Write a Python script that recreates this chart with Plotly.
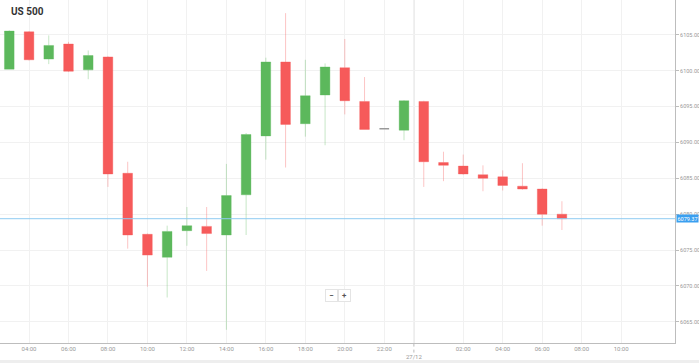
import plotly.graph_objects as go

# ---- data (hourly candles, 26/12 03:00 -> 27/12 07:00) ----
hours = ["03:00", "04:00", "05:00", "06:00", "07:00", "08:00", "09:00", "10:00",
         "11:00", "12:00", "13:00", "14:00", "15:00", "16:00", "17:00", "18:00",
         "19:00", "20:00", "21:00", "22:00", "23:00", "00:00", "01:00", "02:00",
         "03:00", "04:00", "05:00", "06:00", "07:00"]
opens = [6100.2, 6105.4, 6101.6, 6103.7, 6100.1, 6101.9, 6085.7, 6077.2,
         6074.0, 6077.7, 6078.3, 6077.1, 6082.7, 6090.9, 6101.2, 6092.6,
         6096.6, 6100.4, 6095.7, 6091.9, 6091.7, 6095.7, 6087.2, 6086.7,
         6085.5, 6085.2, 6083.9, 6083.5, 6080.0]
highs = [6105.6, 6105.5, 6104.9, 6104.0, 6102.8, 6102.0, 6087.3, 6077.3,
         6078.4, 6081.0, 6081.0, 6087.0, 6091.3, 6101.8, 6108.0, 6101.5,
         6101.0, 6104.4, 6099.1, 6091.9, 6095.9, 6095.8, 6088.7, 6088.3,
         6086.8, 6086.1, 6087.1, 6083.6, 6081.8]
lows = [6100.2, 6101.4, 6100.9, 6099.8, 6098.8, 6083.8, 6075.2, 6069.9,
        6068.4, 6075.6, 6072.1, 6063.9, 6077.1, 6087.6, 6086.5, 6090.8,
        6089.6, 6093.9, 6091.8, 6091.9, 6090.3, 6083.8, 6084.6, 6085.5,
        6083.2, 6083.3, 6083.4, 6078.4, 6077.8]
closes = [6105.5, 6101.5, 6103.5, 6099.9, 6102.1, 6085.6, 6077.1, 6074.3,
          6077.6, 6078.4, 6077.3, 6082.6, 6091.1, 6101.2, 6092.5, 6096.5,
          6100.5, 6095.8, 6091.8, 6091.9, 6095.8, 6087.3, 6086.8, 6085.6,
          6085.0, 6084.0, 6083.5, 6080.0, 6079.37]
current_price = 6079.37
day_label = "27/12"
y_ticks = [6065, 6070, 6075, 6080, 6085, 6090, 6095, 6100, 6105]

# ---- derived positions ----
xs = list(range(len(hours)))
day_start = hours.index("00:00")
day_x = day_start - 0.5

# tick positions: even hours (extending past the last candle)
tickvals, ticktext = [], []
ext_hours = hours + ["08:00", "09:00", "10:00"]
for i, h in enumerate(ext_hours):
    if int(h[:2]) % 2 == 0 and h != "00:00":
        tickvals.append(i)
        ticktext.append(h)
tickvals.append(day_x)
ticktext.append(" <br>" + day_label)

GREEN = "#5cb85c"
RED = "#f65a5a"
GREEN_L = "rgba(92,184,92,0.35)"
RED_L = "rgba(246,90,90,0.35)"

main_idx = [i for i in xs if opens[i] != closes[i]]
doji_idx = [i for i in xs if opens[i] == closes[i]]

fig = go.Figure()
fig.add_trace(go.Candlestick(
    x=[xs[i] for i in main_idx],
    open=[opens[i] for i in main_idx], high=[highs[i] for i in main_idx],
    low=[lows[i] for i in main_idx], close=[closes[i] for i in main_idx],
    increasing=dict(fillcolor=GREEN, line=dict(color=GREEN_L, width=1)),
    decreasing=dict(fillcolor=RED, line=dict(color=RED_L, width=1)),
    whiskerwidth=0, showlegend=False, hoverinfo="skip"))
fig.add_trace(go.Candlestick(
    x=[xs[i] for i in doji_idx],
    open=[opens[i] for i in doji_idx], high=[highs[i] for i in doji_idx],
    low=[lows[i] for i in doji_idx], close=[closes[i] for i in doji_idx],
    increasing=dict(fillcolor="#999999", line=dict(color="#999999", width=1.5)),
    decreasing=dict(fillcolor="#999999", line=dict(color="#999999", width=1.5)),
    whiskerwidth=0, showlegend=False, hoverinfo="skip"))

# day boundary line
fig.add_shape(type="line", xref="x", yref="paper", x0=day_x, x1=day_x, y0=0, y1=1,
              line=dict(color="#e2e2e2", width=1.5), layer="below")
fig.add_shape(type="line", xref="x", yref="paper", x0=day_x, x1=day_x, y0=-0.028, y1=0,
              line=dict(color="#bbbbbb", width=1, dash="dot"))
# current price line
fig.add_shape(type="line", xref="paper", yref="y", x0=0, x1=1,
              y0=current_price, y1=current_price,
              line=dict(color="#8ecbf2", width=1))
fig.add_annotation(xref="paper", yref="y", x=1.002, y=current_price, xanchor="left",
                   yanchor="middle", text=f"{current_price:.2f}", showarrow=False,
                   font=dict(size=5.5, color="white", family="Roboto"),
                   bgcolor="#3a9ff0", borderpad=0.5)
# title
fig.add_annotation(xref="paper", yref="paper", x=0, y=1, xshift=9, yshift=-4,
                   xanchor="left", yanchor="top", text="<b>US 500</b>", showarrow=False,
                   font=dict(size=10, color="#333333", family="Roboto"))
# zoom buttons
for lbl, xs_ in [("−", 331), ("+", 344)]:
    fig.add_annotation(xref="paper", yref="paper", x=xs_ / 675, y=(343 - 295) / 343,
                       xanchor="center", yanchor="middle", text=f"<b>{lbl}</b>",
                       showarrow=False, font=dict(size=8, color="#555555", family="Roboto"),
                       bgcolor="white", bordercolor="#e4e4e4", borderwidth=1,
                       borderpad=1, width=9, height=9)

fig.update_layout(
    width=699, height=363,
    margin=dict(l=0, r=24, t=0, b=20),
    paper_bgcolor="white", plot_bgcolor="white",
    font=dict(family="Roboto", size=6, color="#999999"),
    boxgap=0.3,
    xaxis=dict(range=[-0.47, 33.73], rangeslider=dict(visible=False),
               tickmode="array", tickvals=tickvals, ticktext=ticktext,
               showgrid=True, gridcolor="#f1f1f1", gridwidth=1,
               showline=True, linecolor="#bdbdbd", linewidth=1,
               ticks="", tickfont=dict(size=6, color="#999999"),
               zeroline=False, fixedrange=True),
    yaxis=dict(range=[6062.06, 6109.83], side="right",
               tickmode="array", tickvals=y_ticks,
               ticktext=[f"{v:.2f}" for v in y_ticks],
               showgrid=True, gridcolor="#f1f1f1", gridwidth=1,
               showline=True, linecolor="#bdbdbd", linewidth=1,
               ticks="outside", ticklen=3, tickcolor="#bdbdbd",
               tickfont=dict(size=5.5, color="#999999"),
               zeroline=False, fixedrange=True),
)
# bottom band
fig.add_shape(type="rect", xref="paper", yref="paper", x0=-0.01, x1=1.05,
              y0=-20 / 343, y1=-17 / 343, fillcolor="#eeeeee", line=dict(width=0))

fig.write_html("out.html", config={"displayModeBar": False},
               post_script="document.body.style.margin='0';document.body.style.overflow='hidden';")
